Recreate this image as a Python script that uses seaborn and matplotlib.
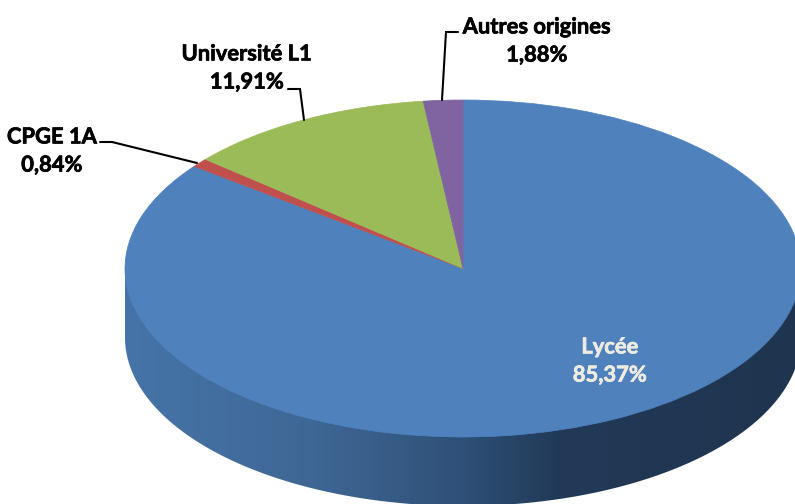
import numpy as np
import seaborn as sns
from matplotlib import pyplot as plt
from matplotlib import patheffects
from matplotlib.colors import LinearSegmentedColormap
from matplotlib.patches import Polygon

# clockwise from the top
categories = ['Lycée', 'CPGE 1A', 'Université L1', 'Autres origines']
shares = [85.37, 0.84, 11.91, 1.88]
slice_colors = ['#4f81bd', '#c0504d', '#9bbb59', '#8064a2']

sns.set_theme(style='white')
plt.rcParams['font.family'] = ['Lato', 'DejaVu Sans']

# geometry of the tilted pie in image pixels
cx, cy = 463, 268.5
rx, ry = 338, 168.5
depth = 69 / ry


def px(x, y):
    return (x - cx) / rx, (cy - y) / ry


fig = plt.figure(figsize=(7.95, 5.04), dpi=100)
ax = fig.add_axes([0, 0, 1, 1])

# side wall of the pie, a left to right shade clipped to the lower rim
theta = np.linspace(np.pi, 2 * np.pi, 300)
rim = np.column_stack([np.cos(theta), np.sin(theta) - depth])
wall = Polygon(np.vstack([rim, [1, 0], [-1, 0]]), closed=True, transform=ax.transData,
               facecolor='none', edgecolor='none')
ax.add_patch(wall)
wall_cmap = LinearSegmentedColormap.from_list('wall', [
    (0.00, '#4674a8'),
    (0.28, '#3f6795'),
    (0.50, '#2f5077'),
    (0.64, '#223a58'),
    (1.00, '#1f344e'),
])
shade = ax.imshow(np.linspace(0, 1, 256).reshape(1, -1), cmap=wall_cmap, aspect='auto',
                  extent=(-1, 1, -1 - depth, 0), zorder=1)
shade.set_clip_path(wall)

# top face
wedges, _ = ax.pie(shares, colors=slice_colors, startangle=90, counterclock=False,
                   radius=1, frame=True)
for w, c in zip(wedges, slice_colors):
    w.set_zorder(2)
    w.set_edgecolor(c)
    w.set_linewidth(0.5)

ax.set_aspect('auto')
ax.set_xlim(px(0, 0)[0], px(795, 0)[0])
ax.set_ylim(px(0, 504)[1], px(0, 0)[1])
ax.axis('off')


def pct(v):
    return f'{v:.2f}'.replace('.', ',') + '%'


# label centre in pixels, one per category
label_pos = [(610, 361), (52, 151), (247, 68), (537, 41)]
label_col = ['#eeece1', 'black', 'black', 'black']
for name, v, (lx, ly), col in zip(categories, shares, label_pos, label_col):
    tx, ty = px(lx, ly)
    t = ax.text(tx, ty, f'{name}\n{pct(v)}', ha='center', va='center', color=col,
                fontsize=15.8, fontweight='bold', linespacing=1.42, zorder=5)
    t.set_path_effects([patheffects.withStroke(linewidth=0.5, foreground=col)])

# leader lines
leaders = [
    [(100, 142), (112, 142), (197, 163)],
    [(288, 89), (300, 89), (304, 120)],
    [(458, 32), (446, 32), (442, 100)],
]
for line in leaders:
    pts = np.array([px(x, y) for x, y in line])
    ax.plot(pts[:, 0], pts[:, 1], color='black', lw=1.5, zorder=4, solid_joinstyle='miter')

fig.savefig('out.png', dpi=100)
